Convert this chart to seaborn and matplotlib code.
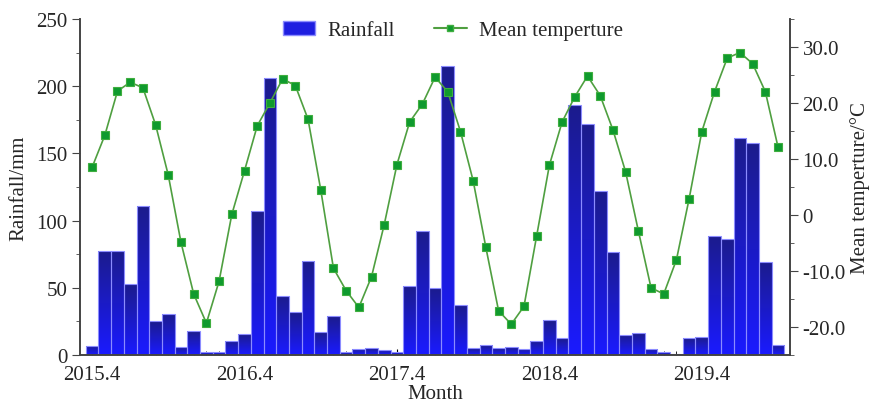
import numpy as np
import pandas as pd
import matplotlib.pyplot as plt
import seaborn as sns
from matplotlib.patches import Patch
from matplotlib.lines import Line2D
from matplotlib.colors import LinearSegmentedColormap
from matplotlib.ticker import MultipleLocator, FixedLocator, FuncFormatter

# monthly data, 2015.4 - 2019.10
months = [f"{y}.{m}" for y in range(2015, 2020) for m in range(1, 13)][3:58]
rainfall = [6.9, 77.6, 77.6, 52.8, 110.6, 25.0, 30.5, 5.7, 17.6, 2.5, 2.5, 10.7,
            15.4, 106.9, 206.0, 44.1, 31.7, 70.2, 16.8, 28.8, 2.0, 4.5, 5.2, 4.0,
            2.5, 51.6, 92.5, 50.1, 215.3, 37.4, 5.2, 7.4, 5.2, 5.7, 4.5, 10.7,
            26.0, 12.4, 186.2, 171.9, 121.8, 76.9, 15.1, 16.1, 4.5, 2.0, 0.5, 12.6,
            13.1, 88.5, 86.6, 161.7, 157.4, 69.4, 7.7]
temperature = [8.5, 14.2, 22.1, 23.7, 22.7, 16.1, 7.1, -4.9, -14.1, -19.3, -11.8, 0.1,
               7.9, 15.9, 20.0, 24.3, 23.1, 17.1, 4.5, -9.5, -13.5, -16.5, -11.0, -1.7,
               9.0, 16.6, 19.8, 24.6, 22.0, 14.9, 6.1, -5.8, -17.1, -19.5, -16.3, -3.7,
               8.9, 16.6, 21.1, 24.8, 21.3, 15.2, 7.7, -2.8, -13.0, -14.1, -8.0, 2.9,
               14.9, 22.0, 28.0, 29.0, 27.0, 22.0, 12.1]
tick_labels = ["2015.4", "2016.4", "2017.4", "2018.4", "2019.4"]

df = pd.DataFrame({"month": months, "idx": np.arange(len(months)),
                   "rain": rainfall, "temp": temperature})

sns.set_style("ticks")
plt.rcParams["font.family"] = ["Liberation Serif", "DejaVu Serif"]

fig = plt.figure(figsize=(8.71, 4.06), dpi=100)
ax = fig.add_axes([0.092, 0.123, 0.815, 0.828])

sns.barplot(data=df, x="idx", y="rain", ax=ax, color="#2222ee", width=1.0,
            edgecolor="#8c8cff", linewidth=0.8, saturation=1)

# vertical blue gradient inside each bar (dark navy top -> bright blue bottom)
grad = np.linspace(0, 1, 256).reshape(-1, 1)
cmap = LinearSegmentedColormap.from_list("rg", ["#1a1aff", "#1c1c8c"])
for p in ax.patches:
    x0, y0 = p.get_x(), p.get_y()
    w, h = p.get_width(), p.get_height()
    if h <= 0:
        continue
    im = ax.imshow(grad, extent=[x0, x0 + w, y0, y0 + h], origin="lower",
                   cmap=cmap, aspect="auto", zorder=p.get_zorder() - 0.1)
    im.set_clip_path(p)
    p.set_facecolor("none")

ax.set_xlim(-0.94, len(months) - 0.06)
ax.set_ylim(0, 250)
ax.set_aspect("auto")

ax2 = ax.twinx()
sns.lineplot(data=df, x="idx", y="temp", ax=ax2, color="#4f9f40", linewidth=1.2,
             marker="s", markersize=6, markerfacecolor="#0f9a2e",
             markeredgecolor="#3fae3f", markeredgewidth=0.8)
ax2.set_ylim(-25, 35)
ax2.set_xlim(ax.get_xlim())

spine_c = "#444444"
for a in (ax, ax2):
    a.spines["top"].set_visible(False)
    for s in a.spines.values():
        s.set_color(spine_c)
        s.set_linewidth(1.2)

ax.xaxis.set_major_locator(FixedLocator([0, 12, 24, 36, 48]))
ax.set_xticklabels(tick_labels)
ax.xaxis.set_minor_locator(FixedLocator(df["idx"].tolist()))
ax.tick_params(axis="x", which="major", direction="in", length=4, color="black",
               labelsize=15, pad=7)
ax.tick_params(axis="x", which="minor", direction="in", length=3, color="black")
ax.yaxis.set_major_locator(MultipleLocator(50))
ax.yaxis.set_minor_locator(MultipleLocator(25))
ax.tick_params(axis="y", which="major", direction="out", length=6, color=spine_c,
               labelsize=15, pad=3)
ax.tick_params(axis="y", which="minor", direction="out", length=3, color=spine_c)

ax2.yaxis.set_major_locator(FixedLocator([-20, -10, 0, 10, 20, 30]))
ax2.yaxis.set_minor_locator(MultipleLocator(5))
ax2.yaxis.set_major_formatter(FuncFormatter(
    lambda v, pos: "0" if v == 0 else f"{v:.1f}"))
ax2.tick_params(axis="y", which="major", direction="out", length=6, color=spine_c,
                labelsize=15, pad=3)
ax2.tick_params(axis="y", which="minor", direction="out", length=3, color=spine_c)

ax.set_xlabel("Month", fontsize=15, labelpad=0)
ax.set_ylabel("Rainfall/mm", fontsize=15, labelpad=6)
ax2.set_ylabel("Mean temperture/°C", fontsize=15, labelpad=3)

handles = [Patch(facecolor="#1e1ee0", edgecolor="#8c8cff"),
           Line2D([], [], color="#4f9f40", marker="s", markersize=5,
                  markerfacecolor="#0f9a2e", markeredgecolor="#3fae3f")]
ax2.legend(handles, ["Rainfall", "Mean temperture"], loc="upper center",
           bbox_to_anchor=(0.525, 1.05), ncol=2, frameon=False, fontsize=15,
           handlelength=1.55, columnspacing=1.9, handletextpad=0.6)

fig.savefig("out.png", dpi=100)
